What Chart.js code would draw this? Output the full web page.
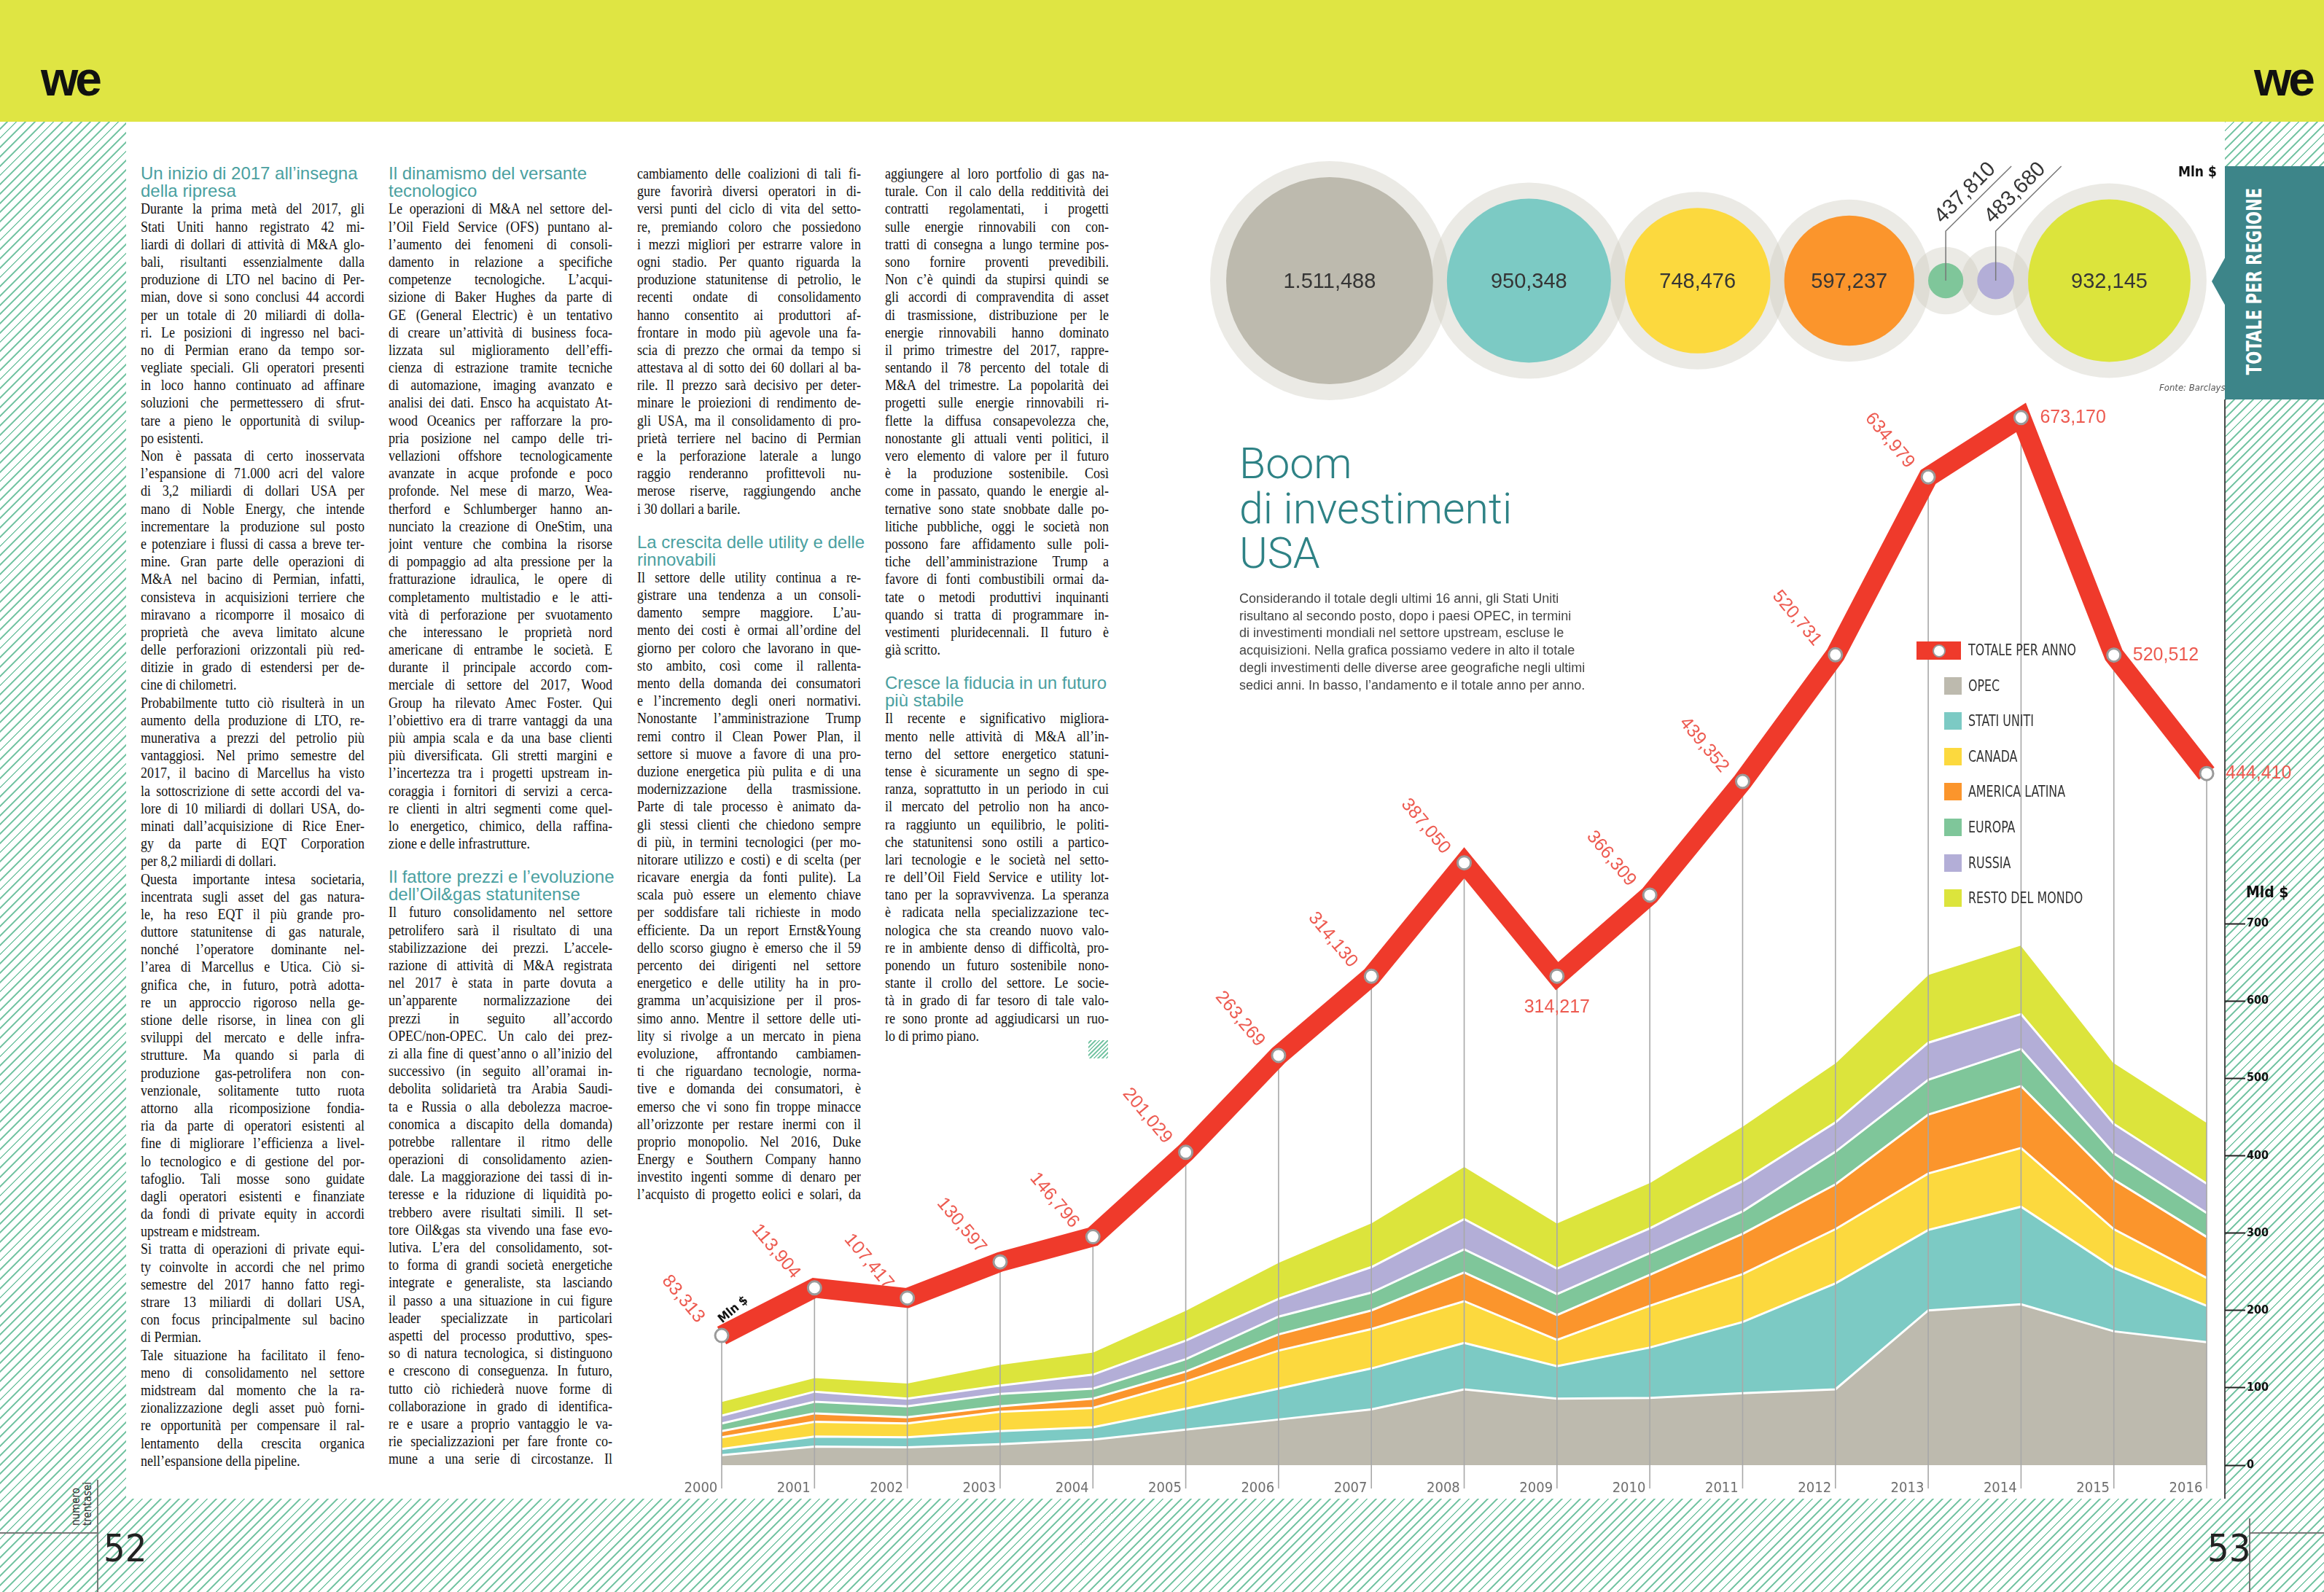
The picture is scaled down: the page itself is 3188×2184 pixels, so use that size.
<!DOCTYPE html>
<html lang="it">
<head>
<meta charset="UTF-8">
<title>Boom di investimenti USA</title>
<script src="https://cdn.jsdelivr.net/npm/chart.js"></script>
<style>
  html, body { margin: 0; padding: 0; }
  body {
    width: 3188px; height: 2184px; position: relative; overflow: hidden;
    background: repeating-linear-gradient(135deg, #fff 0 7px, #7cc7a8 7px 9px);
    font-family: 'Liberation Sans', Arial, sans-serif;
  }
  .abs { position: absolute; }
  #header { left: 0; top: 0; width: 3188px; height: 167px; background: #dfe543; }
  .logo { top: 68px; font: bold 66px 'Liberation Sans'; letter-spacing: -4px; color: #111; line-height: 80px; }
  #panel { left: 173px; top: 167px; width: 2879px; height: 1889px; background: #fff; }
  .col { position: absolute; top: 226px; width: 307px; }
  .hd { font-size: 24px; color: #4a9fa0; height: 24.2px; line-height: 24.2px; white-space: nowrap; }
  .hd.gap { margin-top: 21.8px; }
  .ln {
    font: 20px 'Liberation Serif', serif; color: #111;
    height: 24.2px; line-height: 24.2px; width: 341px;
    transform: scaleX(0.9); transform-origin: 0 0;
    text-align: justify; text-align-last: justify; overflow: hidden;
  }
  .ln.end { text-align-last: left; }
  #title { left: 1700px; top: 605px; font: 300 59px Roboto, 'Liberation Sans'; color: #2e8285; line-height: 61.5px; }
  #intro { left: 1700px; top: 810px; font: 18px 'Liberation Sans'; color: #444; line-height: 23.7px; white-space: nowrap; }
  .leg {
    position: absolute; left: 2700px; font: 21px 'Liberation Sans Narrow', 'DejaVu Sans Condensed', sans-serif;
    color: #333; line-height: 24px; white-space: nowrap; transform: scaleX(0.84); transform-origin: 0 50%;
  }
  .sw { position: absolute; left: 2667px; width: 24px; height: 24px; }
  canvas { position: absolute; }
  .narrow { font-family: 'Liberation Sans Narrow', 'DejaVu Sans Condensed', sans-serif; }
</style>
</head>
<body>
<div id="header" class="abs"></div>
<div class="abs logo" style="left:56px;">we</div>
<div class="abs logo" style="left:3092px;">we</div>
<div id="panel" class="abs"></div>

<div class="col" id="c1" style="left:193px;"></div>
<div class="col" id="c2" style="left:533px;"></div>
<div class="col" id="c3" style="left:874px;"></div>
<div class="col" id="c4" style="left:1214px;"></div>
<div class="abs" style="left:1493px; top:1427px; width:27px; height:25px; background: repeating-linear-gradient(135deg, #fff 0 2px, #7cc7a8 2px 4px);"></div>

<!-- tab -->
<div class="abs" style="left:3052px; top:228px; width:136px; height:320px; background:#3d8589;"></div>
<div class="abs" style="left:3034px; top:352px; width:19px; height:68px; background:#3d8589; clip-path: polygon(100% 0, 0 50%, 100% 100%);"></div>
<div class="abs narrow" style="left:3092px; top:386px; transform: translate(-50%,-50%) rotate(-90deg) scaleX(0.84); font-weight:bold; font-size:28px; color:#fff; white-space:nowrap;">TOTALE PER REGIONE</div>
<div class="abs" style="left:3051px; top:548px; width:2px; height:1508px; background:#4a4a4a;"></div>

<canvas id="main" width="2288" height="1620" style="left:900px; top:480px;"></canvas>
<canvas id="bubbles" width="1420" height="370" style="left:1640px; top:200px;"></canvas>

<div class="abs narrow" style="left:2988px; top:224px; font-weight:bold; font-size:19px; color:#111;">Mln $</div>
<div class="abs narrow" style="left:2962px; top:524px; font-style:italic; font-size:13px; color:#555;">Fonte: Barclays</div>
<div class="abs narrow" style="left:3081px; top:1212px; font-weight:bold; font-size:21px; color:#111;">Mld $</div>

<div id="title" class="abs">Boom<br>di investimenti<br>USA</div>
<div id="intro" class="abs">Considerando il totale degli ultimi 16 anni, gli Stati Uniti<br>risultano al secondo posto, dopo i paesi OPEC, in termini<br>di investimenti mondiali nel settore upstream, escluse le<br>acquisizioni. Nella grafica possiamo vedere in alto il totale<br>degli investimenti delle diverse aree geografiche negli ultimi<br>sedici anni. In basso, l’andamento e il totale anno per anno.</div>

<div id="legend"></div>

<!-- footer -->
<div class="abs" style="left:0; top:2102px; width:134px; height:2px; background:#777;"></div>
<div class="abs" style="left:133px; top:2030px; width:2px; height:154px; background:#777;"></div>
<div class="abs" style="left:3086px; top:2102px; width:102px; height:2px; background:#777;"></div>
<div class="abs" style="left:3085px; top:2083px; width:2px; height:101px; background:#777;"></div>
<div class="abs narrow" style="left:142px; top:2098px; font-size:52px; line-height:52px; color:#222;">52</div>
<div class="abs narrow" style="left:3028px; top:2098px; font-size:52px; line-height:52px; color:#222;">53</div>
<div class="abs narrow" style="left:112px; top:2063px; transform: translate(-50%,-50%) rotate(-90deg); font-size:15px; line-height:16px; color:#333; white-space:nowrap;">numero<br>trentasei</div>

<script>
// ---- data ----
const years = [2000, 2001, 2002, 2003, 2004, 2005, 2006, 2007, 2008, 2009, 2010, 2011, 2012, 2013, 2014, 2015, 2016];
const regions = ['OPEC', 'STATI UNITI', 'CANADA', 'AMERICA LATINA', 'EUROPA', 'RUSSIA', 'RESTO DEL MONDO'];
// Mld $
const opec          = [13, 24, 23, 27, 33, 46, 59, 72, 98, 86, 87, 93, 98, 200, 208, 173, 159];
const statiUniti    = [8, 13, 13, 17, 16, 27, 40, 53, 60, 42, 65, 92, 137, 104, 126, 82, 47];
const canada        = [15, 19, 18, 25, 25, 35, 49, 51, 54, 34, 54, 62, 70, 73, 76, 50, 36];
const americaLatina = [8, 11, 8, 7, 12, 13, 21, 24, 37, 32, 40, 52, 58, 76, 80, 64, 53];
const europa        = [10, 15, 14, 16, 13, 16, 23, 23, 30, 27, 28, 29, 42, 45, 48, 34, 31];
const russia        = [10, 13, 10, 11, 18, 24, 23, 33, 39, 33, 32, 39, 38, 48, 45, 38, 38];
const restoDelMondo = [19, 19, 21, 28, 30, 40, 48, 58, 69, 60, 60, 72, 78, 89, 90, 80, 80];
// Mln $
const totalePerAnno = [83313, 113904, 107417, 130597, 146796, 201029, 263269, 314130, 387050, 314217, 366309, 439352, 520731, 634979, 673170, 520512, 444410];
const yTicks = [0, 100, 200, 300, 400, 500, 600, 700];
// totale per regione, Mln $
const bubbleLabels = ['1.511,488', '950,348', '748,476', '597,237', '437,810', '483,680', '932,145'];
// circle areas as drawn in the graphic
const bubbleSizes = [1511.488, 950.348, 748.476, 597.237, 43.781, 48.368, 932.145];

const regionSeries = [opec, statiUniti, canada, americaLatina, europa, russia, restoDelMondo];
const regionColors = ['#bdbaae', '#7ccac4', '#fcd93e', '#fb952c', '#7fc69a', '#b3aed7', '#dce43c'];
const red = '#ef3a2b';

// ---- text columns ----
const col1 = [
'#Un inizio di 2017 all’insegna', '#della ripresa',
'Durante la prima metà del 2017, gli', 'Stati Uniti hanno registrato 42 mi-', 'liardi di dollari di attività di M&A glo-',
'bali, risultanti essenzialmente dalla', 'produzione di LTO nel bacino di Per-', 'mian, dove si sono conclusi 44 accordi',
'per un totale di 20 miliardi di dolla-', 'ri. Le posizioni di ingresso nel baci-', 'no di Permian erano da tempo sor-',
'vegliate speciali. Gli operatori presenti', 'in loco hanno continuato ad affinare', 'soluzioni che permettessero di sfrut-',
'tare a pieno le opportunità di svilup-', 'po esistenti.|',
'Non è passata di certo inosservata', 'l’espansione di 71.000 acri del valore', 'di 3,2 miliardi di dollari USA per',
'mano di Noble Energy, che intende', 'incrementare la produzione sul posto', 'e potenziare i flussi di cassa a breve ter-',
'mine. Gran parte delle operazioni di', 'M&A nel bacino di Permian, infatti,', 'consisteva in acquisizioni terriere che',
'miravano a ricomporre il mosaico di', 'proprietà che aveva limitato alcune', 'delle perforazioni orizzontali più red-',
'ditizie in grado di estendersi per de-', 'cine di chilometri.|',
'Probabilmente tutto ciò risulterà in un', 'aumento della produzione di LTO, re-', 'munerativa a prezzi del petrolio più',
'vantaggiosi. Nel primo semestre del', '2017, il bacino di Marcellus ha visto', 'la sottoscrizione di sette accordi del va-',
'lore di 10 miliardi di dollari USA, do-', 'minati dall’acquisizione di Rice Ener-', 'gy da parte di EQT Corporation',
'per 8,2 miliardi di dollari.|',
'Questa importante intesa societaria,', 'incentrata sugli asset del gas natura-', 'le, ha reso EQT il più grande pro-',
'duttore statunitense di gas naturale,', 'nonché l’operatore dominante nel-', 'l’area di Marcellus e Utica. Ciò si-',
'gnifica che, in futuro, potrà adotta-', 're un approccio rigoroso nella ge-', 'stione delle risorse, in linea con gli',
'sviluppi del mercato e delle infra-', 'strutture. Ma quando si parla di', 'produzione gas-petrolifera non con-',
'venzionale, solitamente tutto ruota', 'attorno alla ricomposizione fondia-', 'ria da parte di operatori esistenti al',
'fine di migliorare l’efficienza a livel-', 'lo tecnologico e di gestione del por-', 'tafoglio. Tali mosse sono guidate',
'dagli operatori esistenti e finanziate', 'da fondi di private equity in accordi', 'upstream e midstream.|',
'Si tratta di operazioni di private equi-', 'ty coinvolte in accordi che nel primo', 'semestre del 2017 hanno fatto regi-',
'strare 13 miliardi di dollari USA,', 'con focus principalmente sul bacino', 'di Permian.|',
'Tale situazione ha facilitato il feno-', 'meno di consolidamento nel settore', 'midstream dal momento che la ra-',
'zionalizzazione degli asset può forni-', 're opportunità per compensare il ral-', 'lentamento della crescita organica',
'nell’espansione della pipeline.|'
];
const col2 = [
'#Il dinamismo del versante', '#tecnologico',
'Le operazioni di M&A nel settore del-', 'l’Oil Field Service (OFS) puntano al-', 'l’aumento dei fenomeni di consoli-',
'damento in relazione a specifiche', 'competenze tecnologiche. L’acqui-', 'sizione di Baker Hughes da parte di',
'GE (General Electric) è un tentativo', 'di creare un’attività di business foca-', 'lizzata sul miglioramento dell’effi-',
'cienza di estrazione tramite tecniche', 'di automazione, imaging avanzato e', 'analisi dei dati. Ensco ha acquistato At-',
'wood Oceanics per rafforzare la pro-', 'pria posizione nel campo delle tri-', 'vellazioni offshore tecnologicamente',
'avanzate in acque profonde e poco', 'profonde. Nel mese di marzo, Wea-', 'therford e Schlumberger hanno an-',
'nunciato la creazione di OneStim, una', 'joint venture che combina la risorse', 'di pompaggio ad alta pressione per la',
'fratturazione idraulica, le opere di', 'completamento multistadio e le atti-', 'vità di perforazione per svuotamento',
'che interessano le proprietà nord', 'americane di entrambe le società. E', 'durante il principale accordo com-',
'merciale di settore del 2017, Wood', 'Group ha rilevato Amec Foster. Qui', 'l’obiettivo era di trarre vantaggi da una',
'più ampia scala e da una base clienti', 'più diversificata. Gli stretti margini e', 'l’incertezza tra i progetti upstream in-',
'coraggia i fornitori di servizi a cerca-', 're clienti in altri segmenti come quel-', 'lo energetico, chimico, della raffina-',
'zione e delle infrastrutture.|',
'#Il fattore prezzi e l’evoluzione', '#dell’Oil&gas statunitense',
'Il futuro consolidamento nel settore', 'petrolifero sarà il risultato di una', 'stabilizzazione dei prezzi. L’accele-',
'razione di attività di M&A registrata', 'nel 2017 è stata in parte dovuta a', 'un’apparente normalizzazione dei',
'prezzi in seguito all’accordo', 'OPEC/non-OPEC. Un calo dei prez-', 'zi alla fine di quest’anno o all’inizio del',
'successivo (in seguito all’oramai in-', 'debolita solidarietà tra Arabia Saudi-', 'ta e Russia o alla debolezza macroe-',
'conomica a discapito della domanda)', 'potrebbe rallentare il ritmo delle', 'operazioni di consolidamento azien-',
'dale. La maggiorazione dei tassi di in-', 'teresse e la riduzione di liquidità po-', 'trebbero avere risultati simili. Il set-',
'tore Oil&gas sta vivendo una fase evo-', 'lutiva. L’era del consolidamento, sot-', 'to forma di grandi società energetiche',
'integrate e generaliste, sta lasciando', 'il passo a una situazione in cui figure', 'leader specializzate in particolari',
'aspetti del processo produttivo, spes-', 'so di natura tecnologica, si distinguono', 'e crescono di conseguenza. In futuro,',
'tutto ciò richiederà nuove forme di', 'collaborazione in grado di identifica-', 're e usare a proprio vantaggio le va-',
'rie specializzazioni per fare fronte co-', 'mune a una serie di circostanze. Il'
];
const col3 = [
'cambiamento delle coalizioni di tali fi-', 'gure favorirà diversi operatori in di-', 'versi punti del ciclo di vita del setto-',
're, premiando coloro che possiedono', 'i mezzi migliori per estrarre valore in', 'ogni stadio. Per quanto riguarda la',
'produzione statunitense di petrolio, le', 'recenti ondate di consolidamento', 'hanno consentito ai produttori af-',
'frontare in modo più agevole una fa-', 'scia di prezzo che ormai da tempo si', 'attestava al di sotto dei 60 dollari al ba-',
'rile. Il prezzo sarà decisivo per deter-', 'minare le proiezioni di rendimento de-', 'gli USA, ma il consolidamento di pro-',
'prietà terriere nel bacino di Permian', 'e la perforazione laterale a lungo', 'raggio renderanno profittevoli nu-',
'merose riserve, raggiungendo anche', 'i 30 dollari a barile.|',
'#La crescita delle utility e delle', '#rinnovabili',
'Il settore delle utility continua a re-', 'gistrare una tendenza a un consoli-', 'damento sempre maggiore. L’au-',
'mento dei costi è ormai all’ordine del', 'giorno per coloro che lavorano in que-', 'sto ambito, così come il rallenta-',
'mento della domanda dei consumatori', 'e l’incremento degli oneri normativi.', 'Nonostante l’amministrazione Trump',
'remi contro il Clean Power Plan, il', 'settore si muove a favore di una pro-', 'duzione energetica più pulita e di una',
'modernizzazione della trasmissione.', 'Parte di tale processo è animato da-', 'gli stessi clienti che chiedono sempre',
'di più, in termini tecnologici (per mo-', 'nitorare utilizzo e costi) e di scelta (per', 'ricavare energia da fonti pulite). La',
'scala può essere un elemento chiave', 'per soddisfare tali richieste in modo', 'efficiente. Da un report Ernst&Young',
'dello scorso giugno è emerso che il 59', 'percento dei dirigenti nel settore', 'energetico e delle utility ha in pro-',
'gramma un’acquisizione per il pros-', 'simo anno. Mentre il settore delle uti-', 'lity si rivolge a un mercato in piena',
'evoluzione, affrontando cambiamen-', 'ti che riguardano tecnologie, norma-', 'tive e domanda dei consumatori, è',
'emerso che vi sono fin troppe minacce', 'all’orizzonte per restare inermi con il', 'proprio monopolio. Nel 2016, Duke',
'Energy e Southern Company hanno', 'investito ingenti somme di denaro per', 'l’acquisto di progetto eolici e solari, da'
];
const col4 = [
'aggiungere al loro portfolio di gas na-', 'turale. Con il calo della redditività dei', 'contratti regolamentati, i progetti',
'sulle energie rinnovabili con con-', 'tratti di consegna a lungo termine pos-', 'sono fornire proventi prevedibili.',
'Non c’è quindi da stupirsi quindi se', 'gli accordi di compravendita di asset', 'di trasmissione, distribuzione per le',
'energie rinnovabili hanno dominato', 'il primo trimestre del 2017, rappre-', 'sentando il 78 percento del totale di',
'M&A del trimestre. La popolarità dei', 'progetti sulle energie rinnovabili ri-', 'flette la diffusa consapevolezza che,',
'nonostante gli attuali venti politici, il', 'vero elemento di valore per il futuro', 'è la produzione sostenibile. Così',
'come in passato, quando le energie al-', 'ternative sono state snobbate dalle po-', 'litiche pubbliche, oggi le società non',
'possono fare affidamento sulle poli-', 'tiche dell’amministrazione Trump a', 'favore di fonti combustibili ormai da-',
'tate o metodi produttivi inquinanti', 'quando si tratta di programmare in-', 'vestimenti pluridecennali. Il futuro è',
'già scritto.|',
'#Cresce la fiducia in un futuro', '#più stabile',
'Il recente e significativo migliora-', 'mento nelle attività di M&A all’in-', 'terno del settore energetico statuni-',
'tense è sicuramente un segno di spe-', 'ranza, soprattutto in un periodo in cui', 'il mercato del petrolio non ha anco-',
'ra raggiunto un equilibrio, le politi-', 'che statunitensi sono ostili a partico-', 'lari tecnologie e le società nel setto-',
're dell’Oil Field Service e utility lot-', 'tano per la sopravvivenza. La speranza', 'è radicata nella specializzazione tec-',
'nologica che sta creando nuovo valo-', 're in ambiente denso di difficoltà, pro-', 'ponendo un futuro sostenibile nono-',
'stante il crollo del settore. Le socie-', 'tà in grado di far tesoro di tale valo-', 're sono pronte ad aggiudicarsi un ruo-',
'lo di primo piano.|'
];

function renderColumn(id, lines) {
  const el = document.getElementById(id);
  let prevBody = false;
  lines.forEach(raw => {
    const d = document.createElement('div');
    if (raw.startsWith('#')) {
      d.className = 'hd' + (prevBody ? ' gap' : '');
      d.textContent = raw.slice(1);
      prevBody = false;
    } else {
      const end = raw.endsWith('|');
      d.className = 'ln' + (end ? ' end' : '');
      d.textContent = end ? raw.slice(0, -1) : raw;
      prevBody = true;
    }
    el.appendChild(d);
  });
}
renderColumn('c1', col1);
renderColumn('c2', col2);
renderColumn('c3', col3);
renderColumn('c4', col4);

// ---- legend (html) ----
const legend = document.getElementById('legend');
const rowTop = 880, rowStep = 48.6;
legend.innerHTML =
  '<div class="abs" style="left:2629px; top:880px; width:61px; height:25px; background:' + red + ';"></div>' +
  '<div class="abs" style="left:2651px; top:884px; width:14px; height:14px; border:2.5px solid #999; border-radius:50%; background:#fff;"></div>' +
  '<div class="leg" style="top:' + rowTop + 'px;">TOTALE PER ANNO</div>' +
  regions.map((r, i) => {
    const top = rowTop + rowStep * (i + 1);
    return '<div class="sw" style="top:' + top + 'px; background:' + regionColors[i] + ';"></div>' +
           '<div class="leg" style="top:' + top + 'px;">' + r + '</div>';
  }).join('');

// ---- main chart ----
const totalIndex = regions.length;
const labelPos = ['up','up','up','up','up','up','up','up','up','below','up','up','up','up','right','right','right'];

const yearLines = {
  id: 'yearLines',
  beforeDatasetDraw(chart, args) {
    if (args.index !== totalIndex) return;
    const ctx = chart.ctx;
    const bottom = chart.chartArea.bottom + 32;
    ctx.save();
    ctx.strokeStyle = '#a8a8a8';
    ctx.lineWidth = 1.6;
    args.meta.data.forEach(p => {
      ctx.beginPath();
      ctx.moveTo(p.x, p.y);
      ctx.lineTo(p.x, bottom);
      ctx.stroke();
    });
    ctx.restore();
  }
};

const totalLabels = {
  id: 'totalLabels',
  afterDatasetsDraw(chart) {
    const ctx = chart.ctx;
    const pts = chart.getDatasetMeta(totalIndex).data;
    ctx.save();
    ctx.fillStyle = '#ed5a50';
    ctx.font = "25px 'Liberation Sans'";
    pts.forEach((p, i) => {
      const txt = totalePerAnno[i].toLocaleString('en-US');
      ctx.save();
      if (labelPos[i] === 'right') {
        ctx.textAlign = 'left'; ctx.textBaseline = 'middle';
        ctx.fillText(txt, p.x + 26, p.y);
      } else if (labelPos[i] === 'below') {
        ctx.textAlign = 'center'; ctx.textBaseline = 'middle';
        ctx.fillText(txt, p.x, p.y + 43);
      } else {
        ctx.translate(p.x - 53, p.y - 50);
        ctx.rotate(50 * Math.PI / 180);
        ctx.textAlign = 'center'; ctx.textBaseline = 'middle';
        ctx.fillText(txt, 0, 0);
      }
      ctx.restore();
    });
    // unit label beside the first point
    const p0 = pts[0];
    ctx.translate(p0.x + 16, p0.y - 35);
    ctx.rotate(-40 * Math.PI / 180);
    ctx.fillStyle = '#111';
    ctx.font = "bold 17px 'Liberation Sans Narrow', 'DejaVu Sans Condensed'";
    ctx.textAlign = 'center'; ctx.textBaseline = 'middle';
    ctx.fillText('Mln $', 0, 0);
    ctx.restore();
  }
};

const areaSets = regionSeries.map((s, i) => ({
  label: regions[i],
  data: years.map((x, k) => ({ x: x, y: s[k] })),
  yAxisID: 'y',
  backgroundColor: regionColors[i],
  borderColor: '#fff',
  borderWidth: 3,
  fill: i === 0 ? 'origin' : '-1',
  pointRadius: 0,
  tension: 0,
  order: 1
}));

new Chart(document.getElementById('main'), {
  type: 'line',
  data: {
    datasets: areaSets.concat([{
      label: 'TOTALE PER ANNO',
      data: years.map((x, k) => ({ x: x, y: totalePerAnno[k] })),
      yAxisID: 'y2',
      borderColor: red,
      borderWidth: 27,
      borderJoinStyle: 'miter',
      borderCapStyle: 'butt',
      fill: false,
      tension: 0,
      pointRadius: 9,
      pointBorderWidth: 3,
      pointBackgroundColor: '#fff',
      pointBorderColor: '#9a9a9a',
      clip: false,
      order: -1
    }])
  },
  options: {
    responsive: false,
    animation: false,
    devicePixelRatio: 1,
    layout: { padding: { left: 90, top: 44, right: 0, bottom: 0 } },
    plugins: { legend: { display: false }, tooltip: { enabled: false } },
    scales: {
      x: {
        type: 'linear', min: 2000, max: 2016.196,
        afterBuildTicks: s => { s.ticks = years.map(v => ({ value: v })); },
        afterFit: s => { s.height = 90; },
        grid: { display: false },
        border: { display: false },
        ticks: {
          autoSkip: false, maxRotation: 0, align: 'end', padding: 12,
          color: '#6e6e6e',
          font: { family: "'Liberation Sans Narrow', 'DejaVu Sans Condensed', sans-serif", size: 20 },
          callback: v => v + ' '
        }
      },
      y: {
        position: 'right', stacked: true, min: 0, max: 1400,
        afterBuildTicks: s => { s.ticks = yTicks.map(v => ({ value: v })); },
        afterFit: s => { s.width = 136; },
        grid: { drawOnChartArea: false, tickLength: 28, tickColor: '#222', tickWidth: 2 },
        border: { display: false },
        ticks: {
          padding: 2, color: '#111',
          font: { family: "'Liberation Sans Narrow', 'DejaVu Sans Condensed', sans-serif", size: 16, weight: 'bold' }
        }
      },
      y2: { display: false, min: 0, max: 696000 }
    }
  },
  plugins: [yearLines, totalLabels]
});

// ---- bubbles (totale per regione) ----
const bubbleK = 3.65, haloW = 22, overlap = 25;
const bubbleR = bubbleSizes.map(v => bubbleK * Math.sqrt(v));
const haloR = bubbleR.map(r => r + haloW);
const bubbleX = [];
haloR.forEach((R, i) => {
  bubbleX.push(i === 0 ? 20 + R : bubbleX[i - 1] + haloR[i - 1] + R - overlap);
});
const bubbleY = 185;

const bubbleText = {
  id: 'bubbleText',
  afterDatasetsDraw(chart) {
    const ctx = chart.ctx;
    const pts = chart.getDatasetMeta(0).data;
    ctx.save();
    ctx.fillStyle = '#353535';
    ctx.font = "29px 'Liberation Sans'";
    ctx.textAlign = 'center'; ctx.textBaseline = 'middle';
    pts.forEach((p, i) => {
      if (bubbleR[i] > 40) {
        ctx.fillText(bubbleLabels[i], p.x, p.y + 2);
        return;
      }
      // leader line and rotated label for the small circles
      const bx = p.x, by = p.y - 68;
      ctx.strokeStyle = '#777'; ctx.lineWidth = 1.5;
      ctx.beginPath();
      ctx.moveTo(p.x, p.y); ctx.lineTo(bx, by); ctx.lineTo(bx + 90, by - 89);
      ctx.stroke();
      ctx.save();
      ctx.translate(bx + 56 * 0.707 - 18 * 0.707, by - 56 * 0.707 - 18 * 0.707);
      ctx.rotate(-45 * Math.PI / 180);
      ctx.fillText(bubbleLabels[i], 0, 0);
      ctx.restore();
    });
    ctx.restore();
  }
};

new Chart(document.getElementById('bubbles'), {
  type: 'bubble',
  data: {
    datasets: [{
      data: bubbleX.map((x, i) => ({ x: x, y: bubbleY, r: bubbleR[i] })),
      backgroundColor: regionColors,
      borderWidth: 0,
      clip: false,
      order: 1
    }, {
      data: bubbleX.map((x, i) => ({ x: x, y: bubbleY, r: haloR[i] })),
      backgroundColor: 'rgba(205,203,190,0.4)',
      borderWidth: 0,
      clip: false,
      order: 2
    }]
  },
  options: {
    responsive: false,
    animation: false,
    devicePixelRatio: 1,
    layout: { autoPadding: false, padding: 0 },
    plugins: { legend: { display: false }, tooltip: { enabled: false } },
    scales: {
      x: { display: false, min: 0, max: 1420 },
      y: { display: false, min: 0, max: 370, reverse: true }
    }
  },
  plugins: [bubbleText]
});
</script>
</body>
</html>
